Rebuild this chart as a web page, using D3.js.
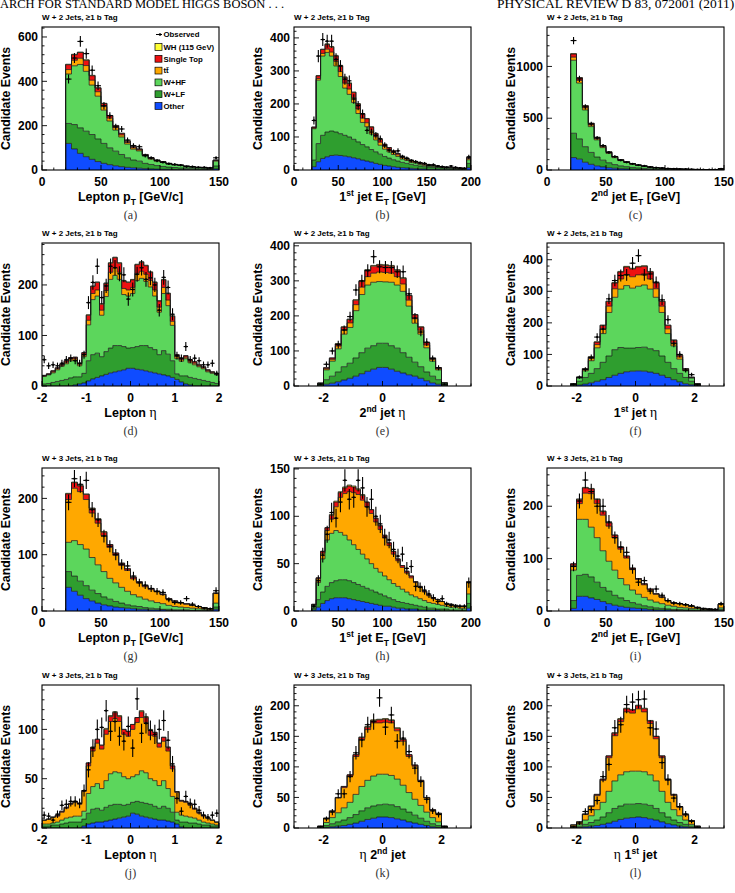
<!DOCTYPE html>
<html>
<head>
<meta charset="utf-8">
<script src="https://cdn.jsdelivr.net/npm/d3@7"></script>
<style>
  body { margin: 0; background: #fff; }
  svg { display: block; font-family: "Liberation Sans", Arial, sans-serif; }
</style>
</head>
<body>
<svg id="fig" width="735" height="893"></svg>
<script>
// ---- (a) lepton pT, W+2 jets, bins of 5 GeV from 20
const aOther = [120,95,75,60,48,38,30,24,19,15,12,10,8,6,5,4,3,3,2,2,2,1,1,1,1,5];
const aWLF = [90,110,115,115,112,102,90,76,66,55,43,35,32,24,20,16,13,10,9,7,6,5,4,3,3,13];
const aWHF = [223,265,286,270,223,193,150,121,95,79,62,49,46,33,24,20,18,14,11,11,8,7,5,5,4,22];
const aTT = [20,25,28,26,22,20,16,13,11,9,7,6,5,4,3,3,2,2,2,1,1,1,1,1,0,3];
const aST = [22,25,26,24,20,17,14,11,9,7,6,5,4,3,3,2,2,1,1,1,1,1,1,0,0,2];
const aWH = [2,2,2,2,2,1,1,1,1,1,1,0,0,0,0,0,0,0,0,0,0,0,0,0,0,0];
const aObs = [410,505,580,525,450,380,290,245,195,185,135,110,105,65,55,42,35,28,25,22,15,15,12,12,10,55];

// ---- (b) 1st jet ET, W+2 jets
const bOther = [10,25,35,40,44,45,44,42,40,37,34,30,27,24,20,17,14,12,10,8,7,6,5,4,3,3,2,2,2,1,1,1,1,1,1,7];
const bWLF = [20,55,70,75,74,70,66,63,60,56,51,47,43,38,35,31,27,24,21,19,16,14,12,10,9,7,7,6,5,5,4,3,3,2,2,13];
const bWHF = [95,192,240,241,227,200,173,143,129,111,86,67,61,47,36,27,22,19,16,14,10,9,6,7,5,4,3,3,2,1,2,2,1,1,1,11];
const bTT = [2,5,8,10,12,14,15,15,16,15,14,13,12,11,10,9,8,7,6,5,5,4,4,3,3,3,2,2,2,2,1,1,1,1,1,4];
const bST = [3,8,12,14,15,16,17,17,17,16,15,13,12,10,9,8,7,6,5,4,4,3,3,2,2,2,2,1,1,1,1,1,1,1,0,3];
const bWH = [0,1,1,2,2,2,2,2,2,1,1,1,1,1,1,1,0,0,0,0,0,0,0,0,0,0,0,0,0,0,0,0,0,0,0,0];
const bObs = [150,345,395,390,390,335,315,275,270,215,195,170,120,115,105,95,75,60,55,58,40,35,28,25,22,20,15,16,12,10,8,12,8,6,5,40];

// ---- (c) 2nd jet ET, W+2 jets
const cOther = [120,105,75,55,40,30,22,17,13,10,8,6,5,4,3,2,2,2,1,1,1,1,0,0,0,1];
const cWLF = [235,195,150,115,85,65,48,35,27,22,17,14,11,8,7,6,4,3,3,2,2,1,2,1,1,4];
const cWHF = [705,540,355,249,166,121,90,67,51,41,31,23,18,15,11,9,7,5,5,4,3,3,2,3,2,5];
const cTT = [30,25,20,16,12,10,8,6,5,4,3,3,2,2,2,1,1,1,1,1,0,0,0,0,0,1];
const cST = [30,25,20,15,12,9,7,5,4,3,3,2,2,1,1,1,1,1,0,0,0,0,0,0,0,1];
const cWH = [4,3,2,2,1,1,1,1,0,0,0,0,0,0,0,0,0,0,0,0,0,0,0,0,0,0];
const cObs = [1250,880,610,445,310,235,170,130,95,75,60,48,40,28,22,18,14,12,9,8,6,5,4,3,3,12];

// ---- (d) lepton eta, W+2 jets, bins of 0.1 from -2
const dOther = [0,0,0,0,0,0,0,2,4,6,10,14,17,20,23,26,28,30,32,35,35,33,32,30,28,26,24,22,20,17,13,8,4,2,0,0,0,0,0,0];
const dWLF = [4,5,7,9,11,13,16,16,14,19,40,48,48,38,45,49,52,50,46,40,41,45,48,50,48,46,38,48,43,33,11,12,16,15,15,13,11,9,7,5];
const dWHF = [15,17,19,23,28,31,34,33,22,33,71,109,113,82,109,136,139,131,103,103,107,131,133,127,120,106,84,113,96,70,30,29,34,29,27,25,23,19,18,17];
const dTT = [1,1,2,2,2,3,3,3,3,4,9,12,12,10,12,14,15,14,12,12,12,14,14,14,13,12,10,12,11,8,4,3,3,3,3,2,2,2,2,1];
const dST = [1,1,2,2,2,3,3,3,2,4,10,14,15,12,14,18,20,18,15,15,15,17,18,17,16,15,12,15,13,10,4,3,3,3,3,2,2,2,1,1];
const dWH = [0,0,0,0,0,0,0,0,0,0,1,1,1,1,1,1,1,1,1,1,1,1,1,1,1,1,1,1,1,1,0,0,0,0,0,0,0,0,0,0];
const dObs = [52,40,42,40,45,52,55,50,45,62,165,205,237,175,198,237,234,222,220,172,191,221,234,211,214,200,150,215,195,142,60,55,78,52,55,50,42,42,45,25];

// ---- (e) 2nd jet eta, W+2 jets, bins of 0.2 from -2.2
const eOther = [1,5,8,12,17,22,28,35,42,48,53,53,48,42,37,32,28,22,15,9,5,1];
const eWLF = [2,13,20,28,38,43,52,60,66,67,69,69,67,66,58,50,40,33,25,19,13,2];
const eWHF = [5,28,43,66,93,102,135,166,180,181,176,175,181,180,175,146,111,93,69,43,28,6];
const eTT = [0,3,5,8,11,13,17,21,24,26,27,27,26,24,21,17,13,11,8,5,3,0];
const eST = [0,3,4,6,9,10,13,16,18,20,20,20,20,18,16,13,11,9,6,4,3,0];
const eWH = [0,0,0,1,1,1,1,2,2,2,2,2,2,2,2,1,1,1,1,0,0,0];
const eObs = [5,62,100,118,160,198,274,300,329,369,340,338,338,326,326,263,194,154,125,78,52,5];

// ---- (f) 1st jet eta, W+2 jets
const fOther = [1,3,6,10,15,20,27,34,40,45,47,48,47,44,40,34,27,20,13,7,4,1];
const fWLF = [2,12,21,30,40,55,68,81,82,75,73,74,76,74,72,61,48,35,27,20,11,2];
const fWHF = [4,10,21,40,66,91,138,166,185,198,190,194,197,189,169,138,91,72,45,21,10,4];
const fTT = [0,2,4,7,10,15,20,27,32,35,36,36,35,32,27,20,15,10,7,4,2,0];
const fST = [0,1,3,5,8,11,15,18,22,24,25,25,24,22,18,15,11,8,5,3,1,0];
const fWH = [0,0,0,1,1,1,1,2,2,2,2,2,2,2,2,1,1,1,1,0,0,0];
const fObs = [5,28,52,90,155,180,276,334,350,352,389,413,352,355,329,273,210,134,100,50,36,4];

// ---- (g) lepton pT, W+3 jets
const gOther = [42,35,28,22,18,14,11,9,7,6,5,4,3,3,2,2,2,1,1,1,1,1,0,0,0,3];
const gWLF = [28,27,25,23,19,17,14,12,10,8,6,5,5,3,3,2,1,2,1,1,1,0,1,1,1,4];
const gWHF = [52,63,65,65,58,51,45,37,33,28,24,20,17,15,13,11,10,7,6,5,4,4,3,2,1,7];
const gTT = [76,93,94,88,79,74,64,55,49,39,37,28,25,22,20,19,16,11,9,7,6,5,4,3,2,17];
const gST = [10,10,10,9,8,7,6,5,4,4,3,3,2,2,2,1,1,1,1,1,1,0,0,0,0,1];
const gWH = [1,1,1,1,1,1,1,0,0,0,0,0,0,0,0,0,0,0,0,0,0,0,0,0,0,0];
const gObs = [193,235,225,232,180,162,133,115,100,83,80,62,50,46,40,35,33,20,15,15,22,12,8,5,4,36];

// ---- (h) 1st jet ET, W+3 jets
const hOther = [1,4,8,11,13,14,14,14,13,12,11,10,9,8,7,6,5,5,4,3,3,2,2,2,1,1,1,1,1,0,0,0,0,0,0,3];
const hWLF = [2,8,12,15,17,18,19,19,19,18,17,16,15,14,13,12,11,9,8,7,6,6,5,4,4,3,2,2,1,2,2,1,1,1,1,5];
const hWHF = [3,18,35,49,52,53,50,47,43,40,37,34,31,28,25,23,21,19,17,16,14,12,10,9,8,7,6,5,5,4,3,3,3,2,2,10];
const hTT = [1,4,6,10,15,25,37,44,51,55,58,57,55,53,49,45,40,36,31,27,23,20,18,15,12,9,7,5,5,4,3,3,2,2,2,12];
const hST = [0,1,2,3,4,5,5,6,6,6,5,5,5,4,4,4,3,3,3,2,2,2,2,1,1,1,1,1,0,0,0,0,0,0,0,1];
const hWH = [0,0,0,0,1,1,1,1,1,1,1,1,0,0,0,0,0,0,0,0,0,0,0,0,0,0,0,0,0,0,0,0,0,0,0,0];
const hObs = [5,32,59,81,104,98,115,138,118,120,138,130,110,118,100,92,78,75,65,58,60,45,47,26,25,22,18,14,10,13,7,6,5,5,5,30];

// ---- (i) 2nd jet ET, W+3 jets
const iOther = [5,28,28,25,22,18,14,11,9,7,6,5,4,3,2,2,2,1,1,1,1,0,0,0,0,1];
const iWLF = [15,40,42,40,33,27,24,19,16,13,10,8,6,5,4,3,2,2,2,1,1,1,1,1,1,2];
const iWHF = [58,107,105,95,85,70,57,48,37,30,24,19,16,13,11,9,7,6,4,4,3,3,2,1,1,3];
const iTT = [9,30,50,64,65,68,67,62,56,51,39,28,24,19,15,12,8,6,7,6,4,3,2,2,1,7];
const iST = [3,8,10,9,8,7,6,5,4,4,3,2,2,2,1,1,1,1,0,0,0,0,0,0,0,0];
const iWH = [0,1,1,1,1,1,1,0,0,0,0,0,0,0,0,0,0,0,0,0,0,0,0,0,0,0];
const iObs = [85,210,250,228,200,200,170,140,122,112,80,55,58,38,42,30,20,15,14,12,10,6,4,3,3,14];

// ---- (j) lepton eta, W+3 jets
const jOther = [0,0,0,0,0,0,0,0,0,2,4,5,6,6,7,8,9,10,11,12,15,14,12,11,10,9,8,8,7,6,4,1,0,0,0,0,0,0,0,0];
const jWLF = [2,2,3,3,4,5,6,6,6,7,11,14,14,12,14,15,15,14,12,12,11,13,14,14,14,13,12,14,13,10,4,5,6,5,5,4,3,3,2,2];
const jWHF = [2,2,2,3,4,5,5,6,6,8,20,23,25,22,27,32,33,32,29,26,26,27,32,31,26,26,23,26,20,16,8,7,6,6,5,4,3,2,2,1];
const jTT = [4,5,6,6,8,10,13,14,12,20,28,36,41,40,47,53,54,52,43,43,48,53,54,51,44,45,39,40,38,28,20,14,14,12,9,7,6,5,4,3];
const jST = [0,0,0,1,1,1,1,1,1,1,3,4,4,4,5,5,6,5,5,5,5,5,6,5,5,4,4,4,4,3,1,1,1,1,1,1,1,0,0,0];
const jWH = [0,0,0,0,0,0,0,0,0,0,0,0,0,0,1,1,1,1,0,0,0,0,1,1,1,0,0,0,0,0,0,0,0,0,0,0,0,0,0,0];
const jObs = [13,12,8,14,23,24,27,27,25,38,59,81,100,102,119,98,108,93,88,103,81,131,96,106,99,95,100,109,89,65,30,17,32,25,24,18,13,11,13,15];

// ---- (k) eta 2nd jet, W+3 jets
const kOther = [0,1,2,3,4,6,8,11,14,16,18,18,17,15,13,10,8,6,4,2,1,0];
const kWLF = [1,3,5,7,9,11,14,17,19,20,20,21,21,20,18,16,13,10,7,5,3,1];
const kWHF = [1,5,10,15,20,25,33,40,45,49,50,49,48,45,39,32,26,21,15,10,6,1];
const kTT = [1,7,10,24,33,43,62,77,83,87,84,85,86,79,72,59,54,39,23,12,14,1];
const kST = [0,0,1,1,2,2,3,3,4,4,5,5,4,4,3,3,2,2,1,1,0,0];
const kWH = [0,0,0,0,0,0,0,1,1,1,1,1,1,1,0,0,0,0,0,0,0,0];
const kObs = [2,15,26,56,56,84,123,144,169,174,213,165,185,142,147,125,98,76,47,28,22,2];

// ---- (l) eta 1st jet, W+3 jets
const lOther = [0,1,2,3,4,6,8,11,14,16,17,18,17,15,13,10,7,5,3,2,1,0];
const lWLF = [1,2,4,6,9,12,17,21,22,23,22,22,22,22,19,15,11,8,6,4,2,1];
const lWHF = [1,3,7,11,17,24,35,45,51,53,54,53,53,50,45,35,24,17,11,7,3,1];
const lTT = [3,4,9,15,23,36,55,74,87,98,95,102,98,84,69,55,36,23,14,8,6,1];
const lST = [0,0,1,1,2,2,3,4,4,5,5,5,5,4,4,3,2,2,1,1,0,0];
const lWH = [0,0,0,0,0,0,0,1,1,1,1,1,1,1,0,0,0,0,0,0,0,0];
const lObs = [2,8,27,30,45,84,104,164,169,202,206,210,211,164,162,107,79,49,35,23,11,1];

const legendLabels = ["WH (115 GeV)", "Single Top", "tt\u0304", "W+HF", "W+LF", "Other"];

// stacking order, bottom to top
const keys = ["other", "wlf", "whf", "tt", "st", "wh"];
const fills = { other: "#0f4cff", wlf: "#2f9e2f", whf: "#5cd65c", tt: "#ffa800", st: "#ee1111", wh: "#ffff33" };

const T2 = "W + 2 Jets, \u22651 b Tag", T3 = "W + 3 Jets, \u22651 b Tag";
const lepPt = [["Lepton p"], ["T", "sub"], [" [GeV/c]"]];
const jet1Et = [["1"], ["st", "sup"], [" jet E"], ["T", "sub"], [" [GeV]"]];
const jet2Et = [["2"], ["nd", "sup"], [" jet E"], ["T", "sub"], [" [GeV]"]];
const lepEta = [["Lepton "], ["\u03b7", "eta"]];

function mk(id, title, xlab, set, xDomain, xMajor, xMinor, yMax, yMajor, yMinor, lo, w) {
  return { id, title, xlab, xDomain, xMajor, xMinor, yMax, yMajor, yMinor, lo, w,
    other: set[0], wlf: set[1], whf: set[2], tt: set[3], st: set[4], wh: set[5], obs: set[6] };
}

const panels = [
  mk("a", T2, lepPt, [aOther, aWLF, aWHF, aTT, aST, aWH, aObs], [0, 150], 50, 10, 645, 200, 40, 20, 5),
  mk("b", T2, jet1Et, [bOther, bWLF, bWHF, bTT, bST, bWH, bObs], [0, 200], 50, 10, 433, 100, 20, 20, 5),
  mk("c", T2, jet2Et, [cOther, cWLF, cWHF, cTT, cST, cWH, cObs], [0, 150], 50, 10, 1381, 500, 100, 20, 5),
  mk("d", T2, lepEta, [dOther, dWLF, dWHF, dTT, dST, dWH, dObs], [-2, 2], 1, 0.2, 283, 100, 20, -2, 0.1),
  mk("e", T2, [["2"], ["nd", "sup"], [" jet "], ["\u03b7", "eta"]], [eOther, eWLF, eWHF, eTT, eST, eWH, eObs], [-3, 3], 2, 0.5, 408, 100, 20, -2.2, 0.2),
  mk("f", T2, [["1"], ["st", "sup"], [" jet "], ["\u03b7", "eta"]], [fOther, fWLF, fWHF, fTT, fST, fWH, fObs], [-3, 3], 2, 0.5, 453, 100, 20, -2.2, 0.2),
  mk("g", T3, lepPt, [gOther, gWLF, gWHF, gTT, gST, gWH, gObs], [0, 150], 50, 10, 254, 100, 20, 20, 5),
  mk("h", T3, jet1Et, [hOther, hWLF, hWHF, hTT, hST, hWH, hObs], [0, 200], 50, 10, 151, 50, 10, 20, 5),
  mk("i", T3, jet2Et, [iOther, iWLF, iWHF, iTT, iST, iWH, iObs], [0, 150], 50, 10, 273, 100, 20, 20, 5),
  mk("j", T3, lepEta, [jOther, jWLF, jWHF, jTT, jST, jWH, jObs], [-2, 2], 1, 0.2, 145, 50, 10, -2, 0.1),
  mk("k", T3, [["\u03b7", "eta"], [" 2"], ["nd", "sup"], [" jet"]], [kOther, kWLF, kWHF, kTT, kST, kWH, kObs], [-3, 3], 2, 0.5, 234, 50, 10, -2.2, 0.2),
  mk("l", T3, [["\u03b7", "eta"], [" 1"], ["st", "sup"], [" jet"]], [lOther, lWLF, lWHF, lTT, lST, lWH, lObs], [-3, 3], 2, 0.5, 234, 50, 10, -2.2, 0.2),
];

const svg = d3.select("#fig");
const colLeft = [42, 294, 547], rowTop = [27, 243, 468, 685];
const fw = 177, fh = 143;

// page header (cut at the top, as in the scan)
svg.append("text").attr("x", 0).attr("y", 8)
  .attr("font-family", "Liberation Serif, serif").attr("font-size", 13.5)
  .attr("textLength", 284).attr("lengthAdjust", "spacingAndGlyphs")
  .text("ARCH FOR STANDARD MODEL HIGGS BOSON . . .");
svg.append("text").attr("x", 497).attr("y", 8)
  .attr("font-family", "Liberation Serif, serif").attr("font-size", 13.5)
  .text("PHYSICAL REVIEW D 83, 072001 (2011)");

function ticksOf(domain, step) {
  return d3.range(Math.ceil(domain[0] / step - 1e-9), Math.floor(domain[1] / step + 1e-9) + 1).map(k => +(k * step).toFixed(6));
}

// rich text with sub/superscripts and a serif eta
function richText(sel, segs, size) {
  let shift = 0;
  segs.forEach(([t, kind]) => {
    const want = kind === "sub" ? size * 0.3 : kind === "sup" ? -size * 0.42 : 0;
    const ts = sel.append("tspan").attr("dy", want - shift).text(t);
    if (kind === "sub" || kind === "sup") ts.attr("font-size", size * 0.68);
    if (kind === "eta") ts.attr("font-family", "Liberation Serif, serif").attr("font-weight", "normal").attr("font-size", size * 1.1);
    shift = want;
  });
}

panels.forEach((p, i) => {
  const g = svg.append("g").attr("transform", `translate(${colLeft[i % 3]},${rowTop[Math.floor(i / 3)]})`);
  const x = d3.scaleLinear().domain(p.xDomain).range([0, fw]);
  const y = d3.scaleLinear().domain([0, p.yMax]).range([fh, 0]);
  const n = p.obs.length;
  const edge = j => p.lo + j * p.w;

  const rows = d3.range(n).map(j => { const r = {}; keys.forEach(k => r[k] = p[k][j]); return r; });
  const series = d3.stack().keys(keys)(rows);

  g.append("clipPath").attr("id", "clip" + i).append("rect").attr("width", fw).attr("height", fh);
  const plot = g.append("g").attr("clip-path", `url(#clip${i})`);

  const area = d3.area().curve(d3.curveStepAfter)
    .x((d, j) => x(edge(j))).y0(d => y(d[0])).y1(d => y(d[1]));
  const step = d3.line().curve(d3.curveStepAfter).x(d => x(d[0])).y(d => y(d[1]));

  series.forEach(s => {
    plot.append("path").attr("d", area([...s, s[n - 1]])).attr("fill", fills[s.key]);
  });
  series.forEach(s => {
    const pts = [[edge(0), 0]];
    s.forEach((d, j) => pts.push([edge(j), d[1]]));
    pts.push([edge(n), s[n - 1][1]], [edge(n), 0]);
    plot.append("path").attr("d", step(pts)).attr("fill", "none")
      .attr("stroke", "#1a1a1a").attr("stroke-width", 0.75);
  });

  // observed with sqrt(N) errors
  const obs = plot.append("g").attr("stroke", "#000").attr("stroke-width", 1.1);
  p.obs.forEach((v, j) => {
    if (v <= 0) return;
    const cx = x(edge(j) + p.w / 2), e = Math.sqrt(v);
    obs.append("line").attr("x1", cx).attr("x2", cx).attr("y1", y(v - e)).attr("y2", y(v + e));
    obs.append("line").attr("x1", x(edge(j))).attr("x2", x(edge(j + 1))).attr("y1", y(v)).attr("y2", y(v));
    obs.append("circle").attr("cx", cx).attr("cy", y(v)).attr("r", 1.1).attr("fill", "#000").attr("stroke", "none");
  });

  // frame and inward ticks
  g.append("rect").attr("width", fw).attr("height", fh).attr("fill", "none").attr("stroke", "#000").attr("stroke-width", 1.1);
  const tk = g.append("g").attr("stroke", "#000").attr("stroke-width", 0.9);
  ticksOf(p.xDomain, p.xMinor).forEach(v => {
    const major = Math.abs(v / p.xMajor - Math.round(v / p.xMajor)) < 1e-6;
    tk.append("line").attr("x1", x(v)).attr("x2", x(v)).attr("y1", fh).attr("y2", fh - (major ? 5 : 2.5));
  });
  ticksOf([0, p.yMax], p.yMinor).forEach(v => {
    const major = Math.abs(v / p.yMajor - Math.round(v / p.yMajor)) < 1e-6;
    tk.append("line").attr("x1", 0).attr("x2", major ? 5 : 2.5).attr("y1", y(v)).attr("y2", y(v));
  });

  const lab = g.append("g").attr("font-weight", "bold").attr("font-size", 12).attr("fill", "#000");
  ticksOf(p.xDomain, p.xMajor).forEach(v => {
    lab.append("text").attr("x", x(v)).attr("y", fh + 16).attr("text-anchor", "middle").text(String(v));
  });
  ticksOf([0, p.yMax], p.yMajor).forEach(v => {
    lab.append("text").attr("x", -4).attr("y", y(v) + 4.2).attr("text-anchor", "end").text(String(v));
  });

  // axis titles
  richText(g.append("text").attr("x", fw / 2).attr("y", fh + 31).attr("text-anchor", "middle")
    .attr("font-weight", "bold").attr("font-size", 12.5), p.xlab, 12.5);
  g.append("text").attr("transform", `translate(-32,${fh / 2}) rotate(-90)`).attr("text-anchor", "middle")
    .attr("font-weight", "bold").attr("font-size", 12.3).text("Candidate Events");

  g.append("text").attr("x", 0).attr("y", -7).attr("font-weight", "bold").attr("font-size", 8)
    .text(p.title);
  g.append("text").attr("x", fw / 2).attr("y", fh + 49).attr("text-anchor", "middle")
    .attr("font-family", "Liberation Serif, serif").attr("font-size", 12).attr("fill", "#333")
    .text(`(${p.id})`);

  if (i === 0) {
    const lg = g.append("g").attr("font-weight", "bold").attr("font-size", 7.8);
    lg.append("line").attr("x1", 114).attr("x2", 120).attr("y1", 7.5).attr("y2", 7.5).attr("stroke", "#000").attr("stroke-width", 1);
    lg.append("circle").attr("cx", 118).attr("cy", 7.5).attr("r", 1.3);
    lg.append("text").attr("x", 121.5).attr("y", 10.3).text("Observed");
    const order = ["wh", "st", "tt", "whf", "wlf", "other"];
    order.forEach((k, r) => {
      const yc = 20 + r * 11.8;
      lg.append("rect").attr("x", 113).attr("y", yc - 3.4).attr("width", 7).attr("height", 6.8)
        .attr("fill", fills[k]).attr("stroke", "#000").attr("stroke-width", 0.7);
      lg.append("text").attr("x", 121.5).attr("y", yc + 2.8).text(legendLabels[r]);
    });
  }
});
</script>
</body>
</html>
